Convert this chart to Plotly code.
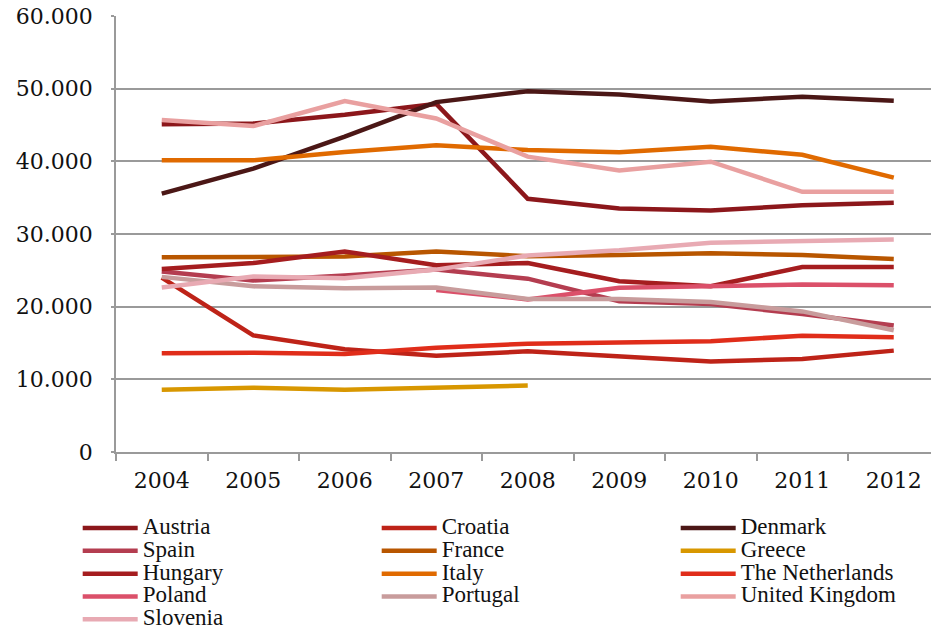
import plotly.graph_objects as go

years = ["2004", "2005", "2006", "2007", "2008", "2009", "2010", "2011", "2012"]

austria = [45100, 45200, 46400, 47900, 34850, 33500, 33250, 33950, 34300]
croatia = [24000, 16050, 14150, 13250, 13850, 13150, 12450, 12800, 13950]
denmark = [35550, 39000, 43400, 48150, 49650, 49200, 48250, 48900, 48350]
spain = [24850, 23600, 24300, 25100, 23850, 20750, 20350, 19000, 17400]
france = [26800, 26800, 26900, 27600, 26950, 27100, 27350, 27100, 26550]
greece = [8550, 8850, 8550, 8900, 9150, None, None, None, None]
hungary = [25200, 26000, 27600, 25700, 26000, 23500, 22800, 25450, 25450]
italy = [40150, 40150, 41300, 42200, 41550, 41250, 42000, 40900, 37750]
netherlands = [13600, 13650, 13500, 14350, 14900, 15050, 15250, 16000, 15800]
poland = [None, None, None, 22300, 21000, 22600, 22900, 23050, 22950]
portugal = [24100, 22800, 22550, 22650, 21050, 21050, 20650, 19350, 16750]
united_kingdom = [45700, 44850, 48300, 45900, 40650, 38750, 39950, 35800, 35800]
slovenia = [22650, 24150, 23900, 25100, 27050, 27750, 28800, 29000, 29250]

series = [
    ("Austria", austria, "#8C171B"),
    ("Croatia", croatia, "#BE2318"),
    ("Denmark", denmark, "#4B1716"),
    ("Spain", spain, "#B43D50"),
    ("France", france, "#B85600"),
    ("Greece", greece, "#D89700"),
    ("Hungary", hungary, "#A51D1F"),
    ("Italy", italy, "#E06A00"),
    ("The Netherlands", netherlands, "#E02D1A"),
    ("Poland", poland, "#DB506A"),
    ("Portugal", portugal, "#C89C9C"),
    ("United Kingdom", united_kingdom, "#E9A0A0"),
    ("Slovenia", slovenia, "#E8AAB3"),
]

fig = go.Figure()
for name, values, color in series:
    fig.add_trace(go.Scatter(
        x=years, y=values, mode="lines", connectgaps=False,
        name=f'<span style="font-size:23px">{name}</span>',
        line=dict(color=color, width=4.5),
    ))

axis_gray = "#9A9A9A"

fig.update_layout(
    width=931, height=627,
    margin=dict(l=116, r=0, t=16, b=175, autoexpand=False),
    paper_bgcolor="white", plot_bgcolor="white",
    separators=",.",
    font=dict(family="DejaVu Serif", color="#111111"),
    xaxis=dict(
        type="category", range=[-0.5, 8.407],
        tickson="boundaries", ticks="outside", ticklen=7, tickwidth=1.5,
        tickcolor=axis_gray, showgrid=False,
        showline=True, linecolor=axis_gray, linewidth=1.5,
        tickfont=dict(family="DejaVu Serif", size=22, color="#111111"),
        ticklabelstandoff=8,
    ),
    yaxis=dict(
        range=[0, 60000], dtick=10000, tickformat=",d",
        showgrid=True, gridcolor=axis_gray, gridwidth=1.5,
        zeroline=False,
        showline=True, linecolor=axis_gray, linewidth=1.5,
        ticks="outside", ticklen=3, tickcolor=axis_gray, tickwidth=1.5,
        tickfont=dict(family="DejaVu Serif", size=22, color="#111111"),
        ticklabelstandoff=14,
    ),
    legend=dict(
        orientation="h", x=-0.047, xanchor="left", y=-0.137, yanchor="top",
        entrywidth=229, entrywidthmode="pixels", itemwidth=55,
        font=dict(family="Liberation Serif", size=15.2, color="#111111"),
        bgcolor="rgba(0,0,0,0)", traceorder="normal",
    ),
    showlegend=True,
)

fig.write_html("out.html")
